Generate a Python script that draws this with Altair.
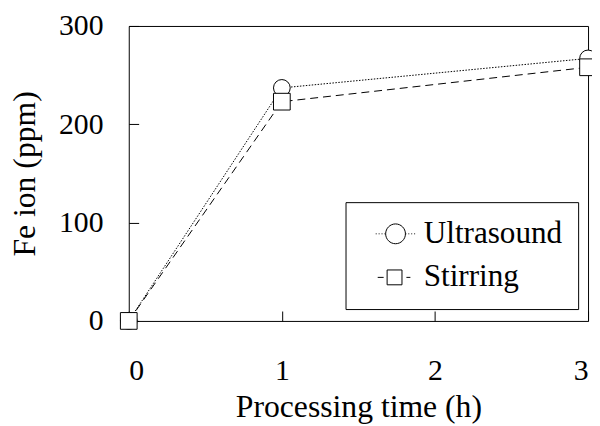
import altair as alt
import pandas as pd

time_h = [0, 1, 3]
ultrasound = [0, 237, 267]
stirring = [0, 223, 258]
series = ["Ultrasound", "Stirring"]
x_ticks = [0, 1, 2, 3]
y_ticks = [0, 100, 200, 300]

df = pd.DataFrame(
    {
        "time": time_h * 2,
        "fe": ultrasound + stirring,
        "series": [series[0]] * len(time_h) + [series[1]] * len(time_h),
    }
)

FONT = "Liberation Serif"
W, H = 464, 298

x_scale = alt.Scale(domain=[0, 3], nice=False, zero=False)
y_scale = alt.Scale(domain=[0, 300], nice=False)

# main axes (labels + titles)
x_main = alt.Axis(
    values=x_ticks, format="d", ticks=False, tickSize=0, domain=False, grid=False,
    labelFont=FONT, labelFontSize=30, labelColor="black", labelPadding=35,
    title="Processing time (h)", titleFont=FONT, titleFontSize=32, titleFontWeight="normal",
    titleColor="black", titleBaseline="alphabetic", titleY=97,
)
y_main = alt.Axis(
    values=y_ticks, format="d", ticks=False, tickSize=0, domain=False, grid=False,
    labelFont=FONT, labelFontSize=30, labelColor="black", labelPadding=26,
    title="Fe ion (ppm)", titleFont=FONT, titleFontSize=32, titleFontWeight="normal",
    titleColor="black", titleBaseline="alphabetic", titleX=-95, titleY=149, titleAngle=-90,
)
# inward ticks
x_in = alt.Axis(
    orient="top", offset=-H, values=x_ticks, labels=False, ticks=True, tickSize=10,
    tickColor="black", domain=False, grid=False, title=None,
)
y_in = alt.Axis(
    orient="right", offset=-W, values=y_ticks, labels=False, ticks=True, tickSize=10,
    tickColor="black", domain=False, grid=False, title=None,
)

lines = alt.Chart(df).mark_line(color="black", strokeWidth=1).encode(
    x=alt.X("time:Q", scale=x_scale, axis=x_main),
    y=alt.Y("fe:Q", scale=y_scale, axis=y_main),
    strokeDash=alt.StrokeDash(
        "series:N",
        scale=alt.Scale(domain=series, range=[[1.5, 1.5], [8, 5]]),
        legend=None,
    ),
    detail="series:N",
)

points = alt.Chart(df).mark_point(
    filled=True, fill="white", stroke="black", strokeWidth=1, size=285, opacity=1, clip=False
).encode(
    x=alt.X("time:Q", scale=x_scale, axis=x_in),
    y=alt.Y("fe:Q", scale=y_scale, axis=y_in),
    shape=alt.Shape(
        "series:N", scale=alt.Scale(domain=series, range=["circle", "square"]), legend=None
    ),
)

# legend symbols: marker with short line pieces (unit coords, symbol box 31px)
circ_path = (
    "M-0.096,0L-0.036,0M0.094,0L0.154,0M0.284,0L0.344,0M0.474,0L0.534,0"
    "M1.84,0L1.90,0M2.03,0L2.09,0M2.22,0L2.28,0M2.41,0L2.47,0"
    "M1.84,0A0.645,0.645 0 1,1 0.55,0A0.645,0.645 0 1,1 1.84,0Z"
)
sq_path = (
    "M0.033,0L0.42,0M1.904,0L2.162,0"
    "M0.646,-0.484L1.614,-0.484L1.614,0.484L0.646,0.484Z"
)

legend_layer = alt.Chart(df).transform_filter("datum.time < 0").mark_point(
    filled=False, color="black", strokeWidth=1, opacity=1
).encode(
    x=alt.X("time:Q", scale=x_scale, axis=None),
    y=alt.Y("fe:Q", scale=y_scale, axis=None),
    shape=alt.Shape(
        "series:N",
        scale=alt.Scale(domain=series, range=[circ_path, sq_path]),
        legend=alt.Legend(
            title=None, orient="none", legendX=219, legendY=178,
            strokeColor="black", fillColor="white", padding=16, rowPadding=12,
            labelFont=FONT, labelFontSize=31.5, labelColor="black", labelOffset=31,
            labelLimit=400, symbolSize=961, symbolStrokeColor="black",
            symbolStrokeWidth=1, symbolOpacity=1,
        ),
    ),
)

chart = (
    alt.layer(lines, points, legend_layer)
    .resolve_scale(shape="independent")
    .resolve_axis(x="independent", y="independent")
    .properties(
        width=W,
        height=H,
        autosize=alt.AutoSizeParams(type="none"),
        padding={"left": 122, "top": 16, "right": 4, "bottom": 104},
        background="white",
    )
    .configure_view(stroke="black", strokeWidth=1)
)

chart.save("out.html", embed_options={"renderer": "svg", "actions": False})
